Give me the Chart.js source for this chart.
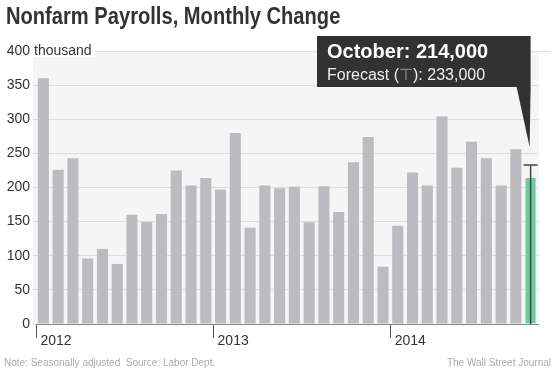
<!DOCTYPE html>
<html>
<head>
<meta charset="utf-8">
<script src="https://cdn.jsdelivr.net/npm/chart.js@4.4.1/dist/chart.umd.min.js"></script>
<style>
  html, body { margin: 0; padding: 0; background: #fff; }
  #wrap { width: 553px; height: 369px; position: relative; }
</style>
</head>
<body>
<div id="wrap"><canvas id="c"></canvas></div>
<script>
// data (thousands of jobs)
const years = [2012, 2013, 2014];
const monthNames = ['January', 'February', 'March', 'April', 'May', 'June',
  'July', 'August', 'September', 'October', 'November', 'December'];
const payrolls = [
  360, 226, 243, 96, 110, 88, 160, 150, 161, 225, 203, 214,
  197, 280, 141, 203, 199, 201, 149, 202, 164, 237, 274, 84,
  144, 222, 203, 304, 229, 267, 243, 203, 256, 214
];
const forecast = 233;
const yTicks = [0, 50, 100, 150, 200, 250, 300, 350, 400];

const labels = payrolls.map((v, i) => monthNames[i % 12] + ' ' + years[Math.floor(i / 12)]);
const last = payrolls.length - 1;

const GRAY = '#bbbbc0';
const GREEN = '#6fc99e';
const FONT = '"Liberation Sans", Arial, sans-serif';

const fmt = v => (v * 1000).toLocaleString('en-US');

const decor = {
  id: 'decor',
  beforeDraw(chart) {
    const { ctx, chartArea: a } = chart;
    ctx.save();
    ctx.fillStyle = '#f5f5f5';
    ctx.fillRect(a.left - 3, a.top, a.right - a.left + 4, a.bottom - a.top);
    ctx.restore();
  },
  afterDatasetsDraw(chart) {
    const { ctx, scales: { x, y } } = chart;
    const cx = x.getPixelForValue(last);
    const fy = y.getPixelForValue(forecast);
    ctx.save();
    // forecast marker
    ctx.strokeStyle = '#444';
    ctx.lineWidth = 1.5;
    ctx.beginPath();
    ctx.moveTo(cx, y.getPixelForValue(0));
    ctx.lineTo(cx, fy);
    ctx.moveTo(cx - 7, fy);
    ctx.lineTo(cx + 7, fy);
    ctx.stroke();
    ctx.restore();
  },
  afterDraw(chart) {
    const { ctx, chartArea: a, scales: { x, y } } = chart;
    ctx.save();
    // "thousand" next to the 400 tick
    const y400 = y.getPixelForValue(400);
    ctx.fillStyle = '#fff';
    ctx.fillRect(a.left - 3, y400 - 6, 62, 12);
    ctx.strokeStyle = '#ddd';
    ctx.lineWidth = 1;
    ctx.beginPath();
    ctx.moveTo(a.right, Math.round(y400) + 0.5);
    ctx.lineTo(550, Math.round(y400) + 0.5);
    ctx.stroke();
    ctx.fillStyle = '#333';
    ctx.font = '14px ' + FONT;
    ctx.textBaseline = 'middle';
    ctx.fillText('thousand', a.left - 2, y400);

    // title (condensed)
    ctx.textBaseline = 'alphabetic';
    ctx.save();
    ctx.translate(6, 24);
    ctx.scale(0.875, 1);
    ctx.fillStyle = '#333';
    ctx.font = 'bold 23px "Liberation Sans Narrow", "Arial Narrow", sans-serif';
    ctx.fillText('Nonfarm Payrolls, Monthly Change', 0, 0);
    ctx.restore();

    // footer
    ctx.fillStyle = '#aaa';
    ctx.font = '10px ' + FONT;
    ctx.fillText('Note: Seasonally adjusted  Source: Labor Dept.', 4, 366);
    ctx.textAlign = 'right';
    ctx.fillText('The Wall Street Journal', 551, 366);
    ctx.textAlign = 'left';

    // callout box for the latest month
    const cx = x.getPixelForValue(last);
    const fy = y.getPixelForValue(forecast);
    const bx = 317, by = 36, bw = cx - bx, bh = 51;
    ctx.fillStyle = '#323232';
    ctx.fillRect(bx, by, bw, bh);
    ctx.beginPath();
    ctx.moveTo(cx - 14, by + bh);
    ctx.lineTo(cx, by + bh);
    ctx.lineTo(cx - 1, fy - 18);
    ctx.closePath();
    ctx.fill();

    ctx.fillStyle = '#fff';
    ctx.font = 'bold 20px ' + FONT;
    ctx.fillText(monthNames[last % 12] + ': ' + fmt(payrolls[last]), 327, 58);
    ctx.font = '16px ' + FONT;
    let tx = 327;
    const p1 = 'Forecast (';
    ctx.fillStyle = '#eee';
    ctx.fillText(p1, tx, 80);
    tx += ctx.measureText(p1).width;
    ctx.fillStyle = '#999';
    ctx.fillText('\u22A4', tx, 80);
    tx += ctx.measureText('\u22A4').width;
    ctx.fillStyle = '#eee';
    ctx.fillText('): ' + fmt(forecast), tx, 80);
    ctx.restore();
  }
};

new Chart(document.getElementById('c'), {
  type: 'bar',
  data: {
    labels,
    datasets: [{
      label: 'Nonfarm payrolls',
      data: payrolls,
      backgroundColor: payrolls.map((v, i) => i === last ? GREEN : GRAY),
      borderColor: payrolls.map((v, i) => i === last ? '#a5dcc2' : GRAY),
      borderWidth: payrolls.map((v, i) => i === last ? { left: 1, right: 1, top: 0, bottom: 0 } : 0),
      borderSkipped: false,
      categoryPercentage: 0.75,
      barPercentage: 1
    }]
  },
  options: {
    responsive: true,
    maintainAspectRatio: false,
    animation: false,
    layout: { padding: { left: 0, right: 15, top: 51, bottom: 15 } },
    plugins: {
      legend: { display: false },
      title: { display: false },
      tooltip: { enabled: false }
    },
    scales: {
      x: {
        offset: true,
        afterFit(s) { s.height = 30; },
        grid: {
          offset: true,
          drawOnChartArea: false,
          drawTicks: true,
          tickLength: 14,
          color: c => c.index % 12 === 0 ? '#555' : 'rgba(0,0,0,0)',
          lineWidth: 1
        },
        border: { display: true, color: '#888', width: 1 },
        ticks: {
          autoSkip: false,
          maxRotation: 0,
          align: 'start',
          labelOffset: -3,
          padding: -5,
          color: '#333',
          font: { family: FONT, size: 14 },
          callback: (v, i) => i % 12 === 0 ? String(years[i / 12]) : ''
        }
      },
      y: {
        min: 0,
        max: 400,
        afterFit(s) { s.width = 36; },
        afterBuildTicks(s) { s.ticks = yTicks.map(v => ({ value: v })); },
        grid: { color: '#dddddd', drawTicks: true, tickLength: 3 },
        border: { display: false },
        ticks: {
          padding: 3,
          color: '#333',
          font: { family: FONT, size: 14 }
        }
      }
    }
  },
  plugins: [decor]
});
</script>
</body>
</html>
